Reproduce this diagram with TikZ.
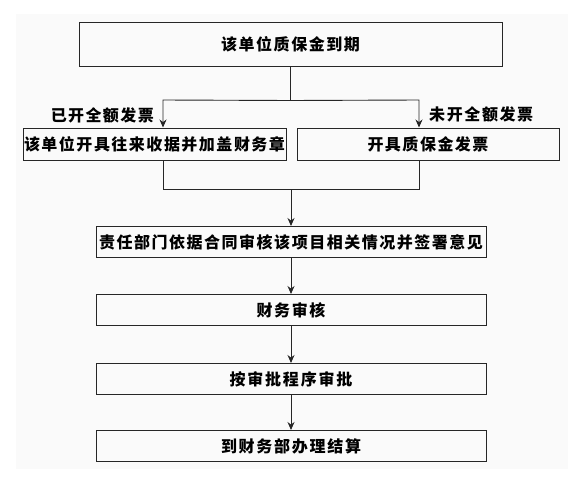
\documentclass[tikz,border=0pt]{standalone}
\usepackage{fontspec}
\newfontfamily\cjk{Noto Sans CJK SC}
\newcommand\spreadtext[2]{\makebox[#1][s]{\spreadloop#2\relax}}
\def\spreadloop#1{\ifx#1\relax\else#1\expandafter\spreadnext\fi}
\def\spreadnext#1{\ifx#1\relax\else\hfil#1\expandafter\spreadnext\fi}
\usetikzlibrary{arrows.meta,positioning}
\begin{document}
\begin{tikzpicture}[x=1pt,y=1pt]
\begin{scope}

\tikzstyle{box} = [draw=black!85,line width=1pt,minimum height=31pt,inner sep=0pt,font={\cjk\bfseries\fontsize{16pt}{16pt}\selectfont}];
\tikzstyle{lab} = [inner sep=0pt,font={\cjk\bfseries\fontsize{16pt}{16pt}\selectfont}];
\tikzstyle{line} = [draw=black!85,line width=0.9pt];
\tikzstyle{arr} = [line,-{Stealth[length=8pt,width=7pt]}];

\useasboundingbox (0,0) rectangle (581,-482);
\fill [black!2] (16,-14) rectangle (568,-469);

\node [box,minimum width=423pt,minimum height=44pt] (s0) at (290.5,-44) {\spreadtext{139pt}{该单位质保金到期}};
\node [box,minimum width=263pt,minimum height=32pt] (s1) at (154.5,-144) {\spreadtext{261pt}{该单位开具往来收据并加盖财务章}};
\node [box,minimum width=262pt,minimum height=32pt] (s2) at (428,-144) {\spreadtext{121pt}{开具质保金发票}};
\node [box,minimum width=390pt,anchor=north] (s3) at (291,-226) {\spreadtext{384pt}{责任部门依据合同审核该项目相关情况并签署意见}};
\node [box,minimum width=390pt,anchor=north] (s4) at ([yshift=-36pt]s3.south) {\spreadtext{69pt}{财务审核}};
\node [box,minimum width=390pt,anchor=north] (s5) at ([yshift=-37pt]s4.south) {\spreadtext{123pt}{按审批程序审批}};
\node [box,minimum width=390pt,anchor=north] (s6) at ([yshift=-35pt]s5.south) {\spreadtext{140pt}{到财务部办理结算}};

\coordinate (c0) at ([yshift=-34pt]s0.south);
\coordinate (c1) at (163,-100);
\coordinate (c2) at (419,-100);
\coordinate (d0) at (291,-189);
\coordinate (d1) at (163,-189);
\coordinate (d2) at (419,-189);

\node [lab,anchor=east] (l1) at ([xshift=-9pt,yshift=-15pt]c1) {\spreadtext{103pt}{已开全额发票}};
\node [lab,anchor=west] (l2) at ([xshift=10pt,yshift=-14pt]c2) {\spreadtext{104pt}{未开全额发票}};

\draw [line] (s0.south) -- (c0);
\draw [arr] (c0) -- (c1) -- (c1 |- s1.north);
\draw [arr] (c0) -- (c2) -- (c2 |- s2.north);
\draw [line] (d1 |- s1.south) -- (d1) -- (d2) -- (d2 |- s2.south);
\draw [arr] (d0) -- (s3.north);
\draw [arr] (s3) -- (s4);
\draw [arr] (s4) -- (s5);
\draw [arr] (s5) -- (s6);

\end{scope}
\end{tikzpicture}
\end{document}
